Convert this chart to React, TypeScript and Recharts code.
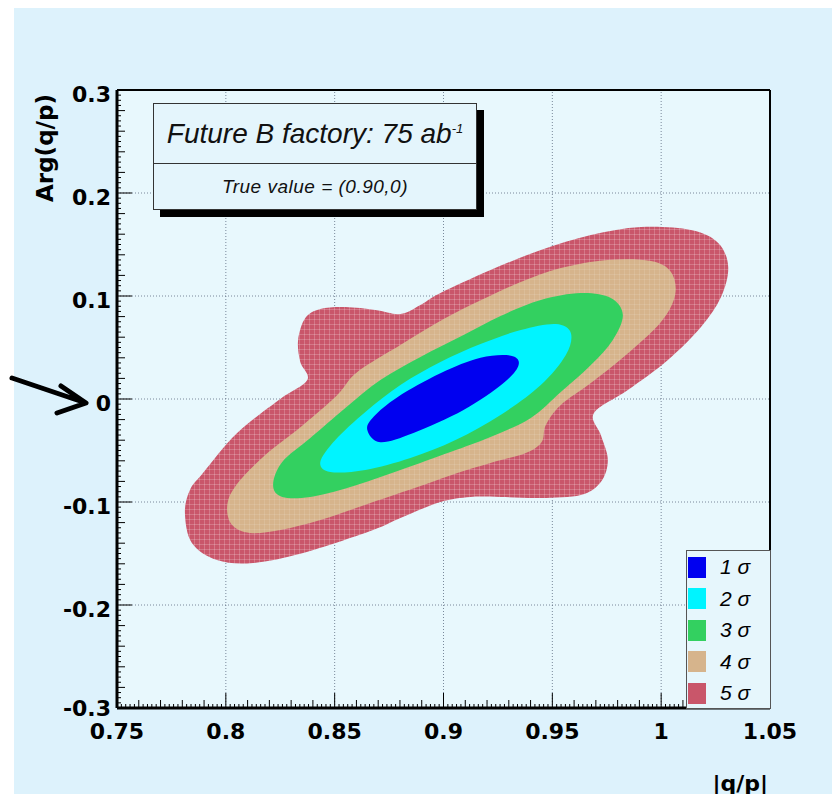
import React from "react";
import { ScatterChart, Scatter, XAxis, YAxis, ReferenceLine } from "recharts";

// contour outlines as (|q/p|, Arg(q/p)) pairs
const SIGMA5 = [
  [0.7812, -0.1107], [0.7835, -0.0883], [0.7895, -0.0718], [0.8052, -0.033], [0.825, 0.0],
  [0.8374, 0.0184], [0.8342, 0.0359], [0.8332, 0.0573], [0.8365, 0.0786], [0.8434, 0.0874],
  [0.8549, 0.0893], [0.8687, 0.0864], [0.8802, 0.0825], [0.8894, 0.0913], [0.8986, 0.1029],
  [0.9216, 0.1252], [0.9447, 0.1447], [0.9677, 0.1592], [0.9907, 0.167], [1.0137, 0.1641],
  [1.0262, 0.1515], [1.0308, 0.1282], [1.0275, 0.099], [1.0183, 0.0699], [1.0031, 0.0379],
  [0.9847, 0.0087], [0.9691, -0.0136], [0.9723, -0.035], [0.9755, -0.0592], [0.9723, -0.0806],
  [0.9631, -0.0932], [0.9447, -0.0961], [0.9262, -0.0951], [0.9124, -0.0951], [0.8986, -0.1],
  [0.8802, -0.1155], [0.8664, -0.1282], [0.8355, -0.1495], [0.8125, -0.1592], [0.7959, -0.1563],
  [0.7844, -0.1398],
];
const SIGMA4 = [
  [0.8006, -0.1049], [0.8042, -0.0854], [0.8171, -0.0563], [0.8355, -0.0252], [0.8512, 0.0039],
  [0.8604, 0.0262], [0.8802, 0.0524], [0.9009, 0.0786], [0.9193, 0.0981], [0.9355, 0.1136],
  [0.9539, 0.1272], [0.9755, 0.135], [0.9953, 0.134], [1.0045, 0.1233], [1.0064, 0.101],
  [0.9999, 0.0748], [0.9838, 0.0427], [0.9677, 0.0155], [0.9539, -0.0058], [0.947, -0.0252],
  [0.9451, -0.0417], [0.9378, -0.0524], [0.9216, -0.0621], [0.9064, -0.0718], [0.8894, -0.0845],
  [0.8664, -0.101], [0.8434, -0.1175], [0.825, -0.1272], [0.8111, -0.1301], [0.8029, -0.1223],
];
const SIGMA3 = [
  [0.8217, -0.0835], [0.8259, -0.0612], [0.8388, -0.0379], [0.8549, -0.0087], [0.871, 0.0184],
  [0.8894, 0.0408], [0.9092, 0.0621], [0.9262, 0.0806], [0.9447, 0.0961], [0.9631, 0.1029],
  [0.9769, 0.0981], [0.9824, 0.0816], [0.9778, 0.0573], [0.9677, 0.033], [0.9539, 0.0068],
  [0.9401, -0.0184], [0.9216, -0.0369], [0.9032, -0.0515], [0.8802, -0.0689], [0.8572, -0.0854],
  [0.8388, -0.0951], [0.8259, -0.0951],
];
const SIGMA2 = [
  [0.8434, -0.0612], [0.8503, -0.0398], [0.8641, -0.0126], [0.8802, 0.0136], [0.8986, 0.0359],
  [0.917, 0.0534], [0.9355, 0.067], [0.9516, 0.0728], [0.9585, 0.0641], [0.9562, 0.0427],
  [0.9447, 0.0136], [0.9262, -0.0155], [0.9055, -0.0398], [0.8848, -0.0573], [0.8641, -0.0689],
  [0.848, -0.0709],
];
const SIGMA1 = [
  [0.865, -0.03], [0.868, -0.017], [0.879, 0.002], [0.8986, 0.025], [0.917, 0.04], [0.931, 0.042],
  [0.9345, 0.033], [0.9276, 0.0155], [0.9092, -0.0107], [0.8862, -0.033], [0.871, -0.042],
];

const LEVEL_NAMES = ["1 σ", "2 σ", "3 σ", "4 σ", "5 σ"];
const LEVEL_COLORS = ["#0000f0", "#00f4ff", "#33d060", "#d6b48c", "#c9566a"];
const LEVEL_SHAPES = [SIGMA1, SIGMA2, SIGMA3, SIGMA4, SIGMA5];

const X_MAJOR = [0.75, 0.8, 0.85, 0.9, 0.95, 1.0, 1.05];
const X_LABELS = ["0.75", "0.8", "0.85", "0.9", "0.95", "1", "1.05"];
const Y_MAJOR = [-0.3, -0.2, -0.1, 0, 0.1, 0.2, 0.3];
const Y_LABELS = ["-0.3", "-0.2", "-0.1", "0", "0.1", "0.2", "0.3"];

// ROOT style tick comb
const xTicks: number[] = [];
for (let i = 0; i <= 150; i++) xTicks.push(+(0.75 + i * 0.002).toFixed(4));
const yTicks: number[] = [];
for (let i = 0; i <= 120; i++) yTicks.push(+(-0.3 + i * 0.005).toFixed(4));

const isMult = (v: number, step: number) => Math.abs(v / step - Math.round(v / step)) < 1e-6;

const FONT = "'DejaVu Sans', sans-serif";
const ITAL = "'Liberation Sans', Arial, sans-serif";

function XTick(props: any) {
  const { x, y, payload } = props;
  const v = payload.value;
  const idx = X_MAJOR.findIndex((m) => Math.abs(m - v) < 1e-6);
  const len = idx >= 0 ? 15 : isMult(v, 0.01) ? 8 : 4;
  return (
    <g>
      <line x1={x} y1={y} x2={x} y2={y - len} stroke="#000" strokeWidth={1} />
      {idx >= 0 && (
        <text x={x} y={y + 31} textAnchor="middle" fontFamily={FONT} fontWeight="bold" fontSize={22} fill="#000">
          {X_LABELS[idx]}
        </text>
      )}
    </g>
  );
}

function YTick(props: any) {
  const { x, y, payload } = props;
  const v = payload.value;
  const idx = Y_MAJOR.findIndex((m) => Math.abs(m - v) < 1e-6);
  const len = idx >= 0 ? 15 : isMult(v, 0.02) ? 8 : 4;
  // lowest label is nudged up so it clears the first |q/p| label
  const dy = idx === 0 ? 8 : 12;
  return (
    <g>
      <line x1={x} y1={y} x2={x + len} y2={y} stroke="#000" strokeWidth={1} />
      {idx >= 0 && (
        <text x={x - 6} y={y + dy} textAnchor="end" fontFamily={FONT} fontWeight="bold" fontSize={22} fill="#000">
          {Y_LABELS[idx]}
        </text>
      )}
    </g>
  );
}

// closed smooth outline through the scaled points
function blobPath(pts: { x: number; y: number }[]) {
  const n = pts.length;
  let d = `M${pts[0].x},${pts[0].y}`;
  for (let i = 0; i < n; i++) {
    const p0 = pts[(i - 1 + n) % n];
    const p1 = pts[i];
    const p2 = pts[(i + 1) % n];
    const p3 = pts[(i + 2) % n];
    const c1x = p1.x + (p2.x - p0.x) / 6;
    const c1y = p1.y + (p2.y - p0.y) / 6;
    const c2x = p2.x - (p3.x - p1.x) / 6;
    const c2y = p2.y - (p3.y - p1.y) / 6;
    d += ` C${c1x},${c1y} ${c2x},${c2y} ${p2.x},${p2.y}`;
  }
  return d + " Z";
}

// red and tan levels carry the fine ROOT fill texture
const blob = (color: string, idx: number) => (props: any) => {
  const textured = idx >= 3;
  const pid = "tex" + idx;
  return (
    <g>
      {textured && (
        <defs>
          <pattern id={pid} width={5} height={5} patternUnits="userSpaceOnUse">
            <rect width={5} height={5} fill={color} />
            <path d="M0,4.5 H5 M4.5,0 V5" stroke="#fff" strokeOpacity={idx === 4 ? 0.2 : 0.1} strokeWidth={1} />
          </pattern>
        </defs>
      )}
      <path d={blobPath(props.points)} fill={textured ? `url(#${pid})` : color} stroke="none" />
    </g>
  );
};

export default function App() {
  const order = [4, 3, 2, 1, 0];
  return (
    <div style={{ position: "relative", width: 840, height: 802, margin: -8, overflow: "hidden", background: "#fff" }}>
      <div style={{ position: "absolute", left: 14, top: 8, width: 826, height: 794, background: "#ddf2fc" }} />
      <div style={{ position: "absolute", left: 117, top: 90, width: 653, height: 618, background: "#e8f8fd" }} />
      <div style={{ position: "absolute", left: 0, top: 0 }}>
        <ScatterChart width={840} height={802} margin={{ top: 90, left: 116, right: 70, bottom: 93 }}>
          <XAxis
            type="number"
            dataKey="x"
            domain={[0.75, 1.05]}
            ticks={xTicks}
            interval={0}
            height={1}
            tickSize={0}
            tickMargin={0}
            tickLine={false}
            tick={<XTick />}
            axisLine={{ stroke: "#000", strokeWidth: 3 }}
            allowDataOverflow
          />
          <YAxis
            type="number"
            dataKey="y"
            domain={[-0.3, 0.3]}
            ticks={yTicks}
            interval={0}
            width={1}
            tickSize={0}
            tickMargin={0}
            tickLine={false}
            tick={<YTick />}
            axisLine={{ stroke: "#000", strokeWidth: 3 }}
            allowDataOverflow
          />
          {order.map((i) => (
            <Scatter
              key={LEVEL_NAMES[i]}
              name={LEVEL_NAMES[i]}
              data={LEVEL_SHAPES[i].map(([x, y]) => ({ x, y }))}
              fill={LEVEL_COLORS[i]}
              line={blob(LEVEL_COLORS[i], i)}
              lineType="joint"
              shape={() => <g />}
              isAnimationActive={false}
            />
          ))}
          {X_MAJOR.slice(1, -1).map((v) => (
            <ReferenceLine key={"gx" + v} x={v} stroke="#4a5a70" strokeDasharray="1 2" strokeOpacity={0.7} />
          ))}
          {Y_MAJOR.slice(1, -1).map((v) => (
            <ReferenceLine key={"gy" + v} y={v} stroke="#4a5a70" strokeDasharray="1 2" strokeOpacity={0.7} />
          ))}
          <ReferenceLine y={0.3} stroke="#000" strokeWidth={2} />
          <ReferenceLine x={1.05} stroke="#000" strokeWidth={2} />
        </ScatterChart>
      </div>

      {/* title box */}
      <div
        style={{
          position: "absolute",
          left: 153,
          top: 103,
          width: 322,
          height: 105,
          border: "1px solid #333",
          background: "#e4f5fc",
          boxShadow: "7px 7px 0 #000",
          fontFamily: ITAL,
          fontStyle: "italic",
          color: "#111",
        }}
      >
        <div style={{ height: 59, borderBottom: "1px solid #333", display: "flex", alignItems: "center", justifyContent: "center", fontSize: 28 }}>
          <span>
            Future B factory: 75 ab<sup style={{ fontSize: 13 }}>-1</sup>
          </span>
        </div>
        <div style={{ height: 45, display: "flex", alignItems: "center", justifyContent: "center", fontSize: 19, letterSpacing: 0.5 }}>
          True value = (0.90,0)
        </div>
      </div>

      {/* legend */}
      <div
        style={{
          position: "absolute",
          left: 686,
          top: 550,
          width: 83,
          height: 157,
          border: "1px solid #555",
          background: "#e6f6fc",
          fontFamily: ITAL,
          fontStyle: "italic",
          fontSize: 21,
        }}
      >
        {LEVEL_NAMES.map((n, i) => (
          <div key={n} style={{ position: "absolute", left: 0, top: 5 + i * 31.5, height: 22, display: "flex", alignItems: "center" }}>
            <div style={{ width: 18, height: 21, background: LEVEL_COLORS[i], marginLeft: 1 }} />
            <span style={{ marginLeft: 14 }}>{n}</span>
          </div>
        ))}
      </div>

      {/* axis titles and arrow */}
      <svg width={840} height={802} style={{ position: "absolute", left: 0, top: 0, pointerEvents: "none" }}>
        <text
          transform="translate(53,148) rotate(-90)"
          textAnchor="middle"
          fontFamily={FONT}
          fontWeight="bold"
          fontSize={23}
          fill="#000"
        >
          Arg(q/p)
        </text>
        <text x={768} y={791} textAnchor="end" fontFamily={FONT} fontWeight="bold" fontSize={22} fill="#000">
          |q/p|
        </text>
        <path
          d="M12,378 L83,402 M61,386 L86,403 L57,413"
          stroke="#000"
          strokeWidth={5}
          strokeLinecap="round"
          strokeLinejoin="round"
          fill="none"
        />
      </svg>
    </div>
  );
}
